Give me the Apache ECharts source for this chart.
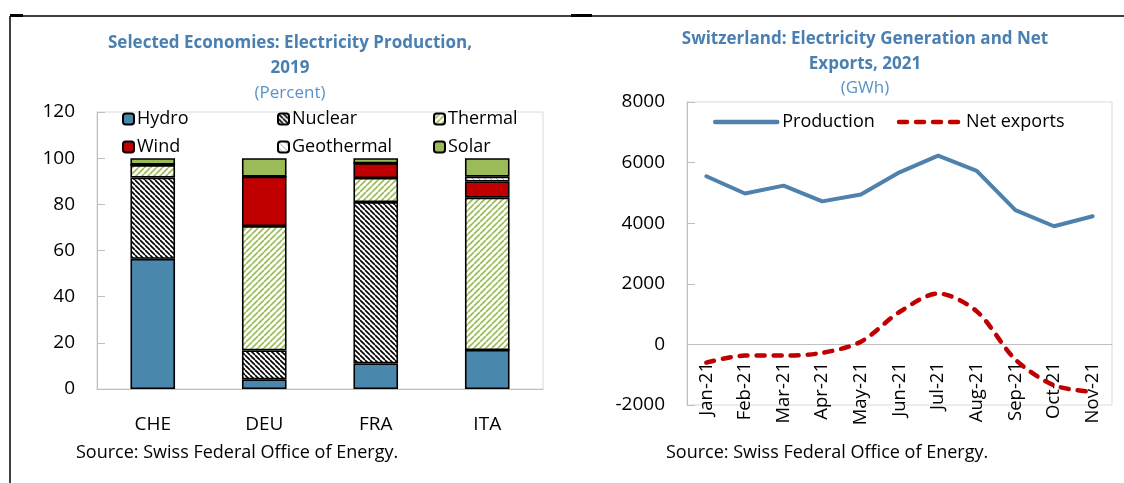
<!DOCTYPE html>
<html>
<head>
<meta charset="utf-8">
<script src="https://cdn.jsdelivr.net/npm/echarts@6/dist/echarts.min.js"></script>
<style>
  html, body { margin: 0; padding: 0; background: #fff; }
  #chart { width: 1124px; height: 483px; }
</style>
</head>
<body>
<div id="chart"></div>
<script>
// left panel: shares of production, 2019
const countries = ['CHE', 'DEU', 'FRA', 'ITA']
const hydro = [56.4, 4.2, 11.1, 16.9]
const nuclear = [35.2, 12.5, 69.9, 0]
const thermal = [5.4, 53.9, 10.4, 66.0]
const wind = [0.2, 21.4, 6.4, 7.0]
const geothermal = [0, 0, 0, 2.1]
const solar = [2.8, 8.0, 2.2, 8.0]
const shareTicks = [0, 20, 40, 60, 80, 100, 120]

// right panel: Switzerland monthly, GWh
const months = ['Jan-21', 'Feb-21', 'Mar-21', 'Apr-21', 'May-21', 'Jun-21',
  'Jul-21', 'Aug-21', 'Sep-21', 'Oct-21', 'Nov-21']
const production = [5550, 4980, 5240, 4720, 4950, 5680, 6230, 5730, 4430, 3900, 4230]
const netExports = [-600, -370, -370, -280, 90, 1070, 1680, 1090, -500, -1350, -1570]
const gwhTicks = [-2000, 0, 2000, 4000, 6000, 8000]

const FONT = 'Open Sans'
const titleBlue = '#4a7fb1'
const subBlue = '#5b93c9'
const axisGrey = '#bfbfbf'

// small hatch tiles for the patterned segments
const hatch = (lineColor, size, width, dir) => {
  const c = document.createElement('canvas')
  c.width = size
  c.height = size
  const ctx = c.getContext('2d')
  ctx.fillStyle = '#fff'
  ctx.fillRect(0, 0, size, size)
  ctx.strokeStyle = lineColor
  ctx.lineWidth = width
  ctx.beginPath()
  for (let k = -1; k <= 1; k++) {
    if (dir === 'back') {
      ctx.moveTo(k * size, 0)
      ctx.lineTo(k * size + size, size)
    } else {
      ctx.moveTo(k * size, size)
      ctx.lineTo(k * size + size, 0)
    }
  }
  ctx.stroke()
  return { image: c, repeat: 'repeat' }
}

const colors = {
  hydro: '#4a87ad',
  nuclear: hatch('#000', 5, 1.6, 'back'),
  thermal: hatch('#9bbb59', 6, 1.6, 'fwd'),
  wind: '#c00000',
  geothermal: hatch('#a6a6a6', 6, 1, 'back'),
  solar: '#9bbb59'
}

const barSeries = (name, data, color) => ({
  name: name,
  type: 'bar',
  stack: 'share',
  xAxisIndex: 0,
  yAxisIndex: 0,
  barWidth: '40%',
  data: data,
  itemStyle: { color: color, borderColor: '#000', borderWidth: 1.6 }
})

const plain = v => String(v)

const chart = echarts.init(document.getElementById('chart'))

const titleStyle = { fontFamily: FONT, fontSize: 17, fontWeight: 'bold', color: titleBlue, lineHeight: 25 }
const subStyle = { fontFamily: FONT, fontSize: 17, color: subBlue }
const boxLegend = (left, names) => ({
  orient: 'vertical', left: left, top: 110, itemGap: 10, padding: 0,
  itemWidth: 11, itemHeight: 11,
  textStyle: { fontSize: 18, color: '#000', padding: [0, 0, 0, -2] },
  data: names
})

const option = {
  animation: false,
  textStyle: { fontFamily: FONT },
  title: [
    {
      text: 'Selected Economies: Electricity Production,\n2019',
      subtext: '(Percent)',
      left: 285,
      top: 26,
      textAlign: 'center',
      itemGap: 4,
      textStyle: titleStyle,
      subtextStyle: subStyle
    },
    {
      text: 'Switzerland: Electricity Generation and Net\nExports, 2021',
      subtext: '(GWh)',
      left: 860,
      top: 22,
      textAlign: 'center',
      itemGap: 3,
      textStyle: titleStyle,
      subtextStyle: subStyle
    }
  ],
  legend: [
    boxLegend(122, ['Hydro', 'Wind']),
    boxLegend(277, ['Nuclear', 'Geothermal']),
    boxLegend(433, ['Thermal', 'Solar']),
    {
      left: 708, top: 108, itemGap: 22,
      itemWidth: 62, itemHeight: 14,
      itemStyle: { opacity: 0 },
      lineStyle: { width: 4.5, cap: 'round' },
      textStyle: { fontSize: 18, color: '#000' },
      data: ['Production', 'Net exports']
    }
  ],
  grid: [
    { left: 97, right: 581, top: 112, bottom: 94, show: true, borderColor: '#d9d9d9', borderWidth: 1 },
    { left: 687, right: 12, top: 102, bottom: 78, show: true, borderColor: '#d9d9d9', borderWidth: 1 }
  ],
  xAxis: [
    {
      type: 'category',
      gridIndex: 0,
      data: countries,
      axisLine: { lineStyle: { color: axisGrey } },
      axisTick: { inside: true, length: 8, lineStyle: { color: axisGrey } },
      axisLabel: { fontSize: 19, color: '#000', margin: 26 }
    },
    {
      type: 'category',
      gridIndex: 1,
      data: months,
      axisLine: { onZero: true, lineStyle: { color: axisGrey } },
      axisTick: { inside: true, length: 8, lineStyle: { color: axisGrey } },
      axisLabel: { fontSize: 18.5, color: '#000', rotate: 90, margin: -43, interval: 0 }
    }
  ],
  yAxis: [
    {
      type: 'value',
      gridIndex: 0,
      min: shareTicks[0],
      max: shareTicks[shareTicks.length - 1],
      interval: 20,
      axisLine: { show: true, lineStyle: { color: axisGrey } },
      axisTick: { show: true, inside: true, length: 8, lineStyle: { color: axisGrey } },
      splitLine: { show: false },
      axisLabel: { fontSize: 19, color: '#000', margin: 22, formatter: plain }
    },
    {
      type: 'value',
      gridIndex: 1,
      min: gwhTicks[0],
      max: gwhTicks[gwhTicks.length - 1],
      interval: 2000,
      axisLine: { show: true, onZero: false, lineStyle: { color: axisGrey } },
      axisTick: { show: true, inside: true, length: 8, lineStyle: { color: axisGrey } },
      splitLine: { show: false },
      axisLabel: { fontSize: 19, color: '#000', margin: 22, formatter: plain }
    }
  ],
  series: [
    barSeries('Hydro', hydro, colors.hydro),
    barSeries('Nuclear', nuclear, colors.nuclear),
    barSeries('Thermal', thermal, colors.thermal),
    barSeries('Wind', wind, colors.wind),
    barSeries('Geothermal', geothermal, colors.geothermal),
    barSeries('Solar', solar, colors.solar),
    {
      name: 'Production',
      type: 'line',
      xAxisIndex: 1,
      yAxisIndex: 1,
      data: production,
      symbol: 'none',
      lineStyle: { color: '#4f81ad', width: 4, cap: 'round' },
      itemStyle: { color: '#4f81ad' }
    },
    {
      name: 'Net exports',
      type: 'line',
      xAxisIndex: 1,
      yAxisIndex: 1,
      data: netExports,
      symbol: 'none',
      smooth: 0.3,
      lineStyle: { color: '#c00000', width: 4.5, type: [8, 9], cap: 'round' },
      itemStyle: { color: '#c00000' }
    }
  ],
  graphic: [
    { type: 'line', shape: { x1: 10, y1: 16, x2: 1124, y2: 16 }, style: { stroke: '#000', lineWidth: 1.5 } },
    { type: 'line', shape: { x1: 10, y1: 16, x2: 10, y2: 483 }, style: { stroke: '#000', lineWidth: 1.5 } },
    { type: 'rect', shape: { x: 10, y: 14, width: 13, height: 3 }, style: { fill: '#000' } },
    { type: 'rect', shape: { x: 571, y: 14, width: 21, height: 3 }, style: { fill: '#000' } },
    {
      type: 'text', left: 76, top: 444,
      style: { text: 'Source: Swiss Federal Office of Energy.', font: '18px "Open Sans"', fill: '#000' }
    },
    {
      type: 'text', left: 666, top: 444,
      style: { text: 'Source: Swiss Federal Office of Energy.', font: '18px "Open Sans"', fill: '#000' }
    }
  ]
}

chart.setOption(option)
</script>
</body>
</html>
